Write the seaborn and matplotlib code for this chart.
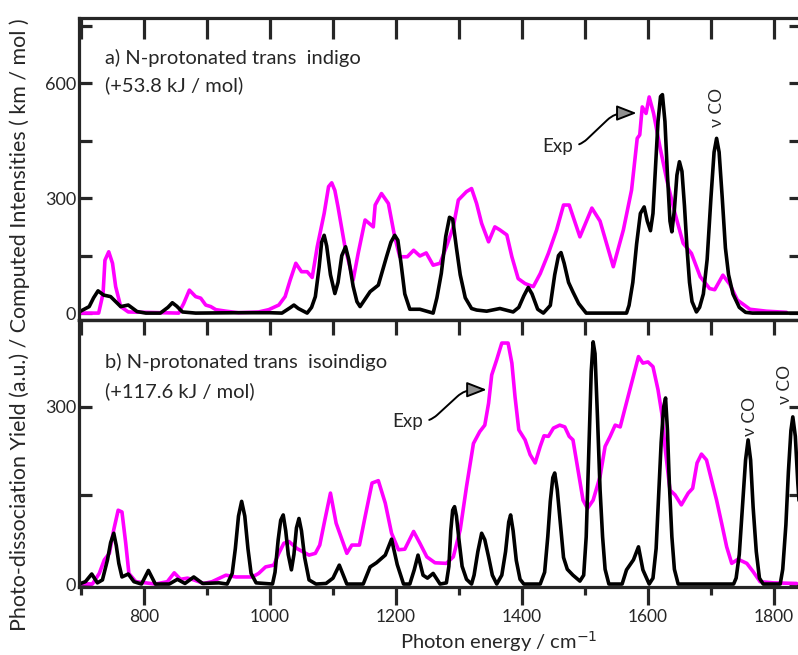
import numpy as np
import pandas as pd
import matplotlib
matplotlib.use("Agg")
import matplotlib.pyplot as plt
import seaborn as sns
from matplotlib.ticker import MultipleLocator

# panel a) N-protonated trans indigo
a_calc_x = [697, 713, 720, 727, 736, 747, 763, 775, 789, 803, 826, 838, 845, 852, 861, 882, 950, 1000,
            1019, 1032, 1038, 1045, 1059, 1066, 1072, 1078, 1082, 1086, 1090, 1096, 1103, 1108, 1114, 1120,
            1125, 1132, 1138, 1143, 1159, 1172, 1185, 1192, 1198, 1203, 1208, 1214, 1222, 1238, 1259, 1265,
            1272, 1279, 1285, 1290, 1296, 1302, 1310, 1320, 1328, 1344, 1365, 1386, 1395, 1403, 1410, 1416,
            1425, 1434, 1445, 1452, 1458, 1462, 1467, 1474, 1481, 1490, 1502, 1566, 1570, 1576, 1582, 1588,
            1594, 1599, 1604, 1608, 1612, 1616, 1620, 1623, 1627, 1631, 1635, 1638, 1642, 1646, 1650, 1654,
            1658, 1662, 1666, 1670, 1677, 1682, 1688, 1694, 1700, 1705, 1709, 1713, 1718, 1723, 1728, 1735,
            1745, 1755, 1766, 1843]
a_calc_y = [3, 17, 40, 58, 47, 43, 17, 21, 4, 0, 0, 15, 27, 18, 3, 0, 1, 1,
            0, 14, 21, 12, 0, 15, 43, 120, 185, 203, 175, 100, 51, 80, 150, 173,
            140, 70, 30, 17, 56, 73, 147, 185, 203, 190, 130, 50, 10, 10, 0, 40,
            104, 200, 250, 245, 170, 100, 40, 12, 8, 5, 12, 3, 15, 45, 67, 50,
            10, 0, 20, 100, 150, 158, 130, 80, 55, 25, 0, 0, 20, 80, 180, 260,
            277, 240, 215, 260, 380, 500, 565, 570, 500, 360, 240, 212, 270, 360, 395, 370,
            280, 170, 80, 30, 3, 15, 50, 140, 300, 420, 456, 420, 300, 170, 100, 50,
            15, 2, 0, 0]

a_exp_x = [697, 728, 735, 738, 744, 750, 755, 763, 775, 855, 863, 872, 882, 890, 898, 906, 914, 930, 950,
           982, 998, 1014, 1024, 1032, 1041, 1050, 1059, 1067, 1075, 1086, 1093, 1098, 1103, 1108, 1119,
           1132, 1140, 1151, 1164, 1167, 1177, 1188, 1198, 1206, 1218, 1228, 1238, 1248, 1259, 1270, 1280,
           1291, 1299, 1312, 1320, 1328, 1336, 1347, 1357, 1365, 1376, 1384, 1394, 1405, 1418, 1429, 1442,
           1455, 1466, 1475, 1492, 1511, 1524, 1545, 1561, 1574, 1583, 1587, 1591, 1597, 1602, 1609, 1619,
           1630, 1643, 1656, 1669, 1683, 1698, 1706, 1719, 1730, 1742, 1762, 1788, 1820]
a_exp_y = [0, 0, 51, 138, 160, 130, 69, 17, 3, 0, 25, 60, 43, 39, 21, 17, 9, 5, 1,
           3, 9, 21, 43, 86, 130, 108, 108, 93, 173, 260, 330, 340, 320, 277, 173,
           86, 156, 243, 225, 282, 312, 286, 199, 147, 147, 164, 149, 157, 125, 130, 173,
           225, 295, 317, 325, 286, 234, 186, 225, 217, 204, 147, 90, 77, 69, 103, 156,
           217, 282, 282, 199, 274, 240, 121, 217, 321, 456, 465, 538, 521, 564, 521, 434,
           347, 260, 182, 156, 95, 64, 61, 99, 75, 34, 10, 5, 2]

# panel b) N-protonated trans isoindigo
b_calc_x = [697, 707, 717, 726, 734, 742, 747, 752, 756, 760, 765, 775, 784, 796, 807, 818, 840, 853, 865,
            879, 893, 919, 932, 940, 945, 950, 955, 960, 965, 970, 978, 1004, 1008, 1013, 1017, 1021, 1025,
            1029, 1034, 1038, 1042, 1046, 1050, 1055, 1062, 1073, 1089, 1100, 1110, 1122, 1148, 1159, 1169,
            1183, 1193, 1202, 1212, 1222, 1229, 1235, 1243, 1250, 1259, 1270, 1280, 1284, 1287, 1290, 1293,
            1296, 1300, 1305, 1312, 1320, 1324, 1330, 1336, 1341, 1347, 1353, 1360, 1368, 1374, 1379, 1382,
            1386, 1391, 1397, 1403, 1429, 1436, 1441, 1445, 1449, 1452, 1456, 1460, 1466, 1472, 1481, 1492,
            1498, 1502, 1506, 1510, 1513, 1516, 1520, 1524, 1528, 1532, 1538, 1559, 1566, 1577, 1585, 1592,
            1602, 1608, 1613, 1617, 1621, 1625, 1628, 1631, 1634, 1638, 1642, 1648, 1736, 1740, 1745, 1750,
            1755, 1759, 1763, 1767, 1772, 1777, 1783, 1810, 1814, 1819, 1823, 1827, 1830, 1834, 1838, 1843]
b_calc_y = [0, 4, 17, 2, 7, 41, 70, 86, 65, 35, 12, 17, 4, 0, 23, 0, 0, 8, 1,
            12, 1, 2, 0, 18, 60, 115, 140, 115, 60, 18, 2, 0, 20, 75, 108, 117, 90,
            50, 24, 50, 95, 111, 90, 45, 7, 0, 1, 10, 32, 0, 0, 29, 36,
            49, 76, 33, 0, 0, 24, 49, 15, 10, 18, 0, 2, 30, 90, 125, 131,
            115, 75, 30, 8, 0, 15, 55, 86, 75, 46, 15, 0, 15, 55, 105, 117,
            90, 40, 8, 0, 0, 20, 80, 140, 180, 188, 160, 114, 45, 25, 15, 5,
            15, 80, 220, 360, 410, 390, 280, 160, 80, 25, 0, 0, 24, 41, 63, 24,
            0, 10, 60, 150, 240, 300, 315, 260, 170, 80, 25, 0, 0, 10, 50, 130,
            210, 244, 210, 130, 55, 10, 0, 0, 25, 100, 190, 260, 283, 250, 170, 92]

b_exp_x = [697, 718, 729, 737, 745, 752, 759, 765, 771, 776, 787, 818, 837, 848, 858, 869, 879, 895, 908,
           922, 930, 946, 972, 982, 993, 1006, 1014, 1022, 1030, 1043, 1062, 1072, 1079, 1087, 1096, 1105,
           1122, 1130, 1142, 1151, 1162, 1172, 1183, 1193, 1204, 1214, 1228, 1238, 1249, 1262, 1280, 1291,
           1302, 1312, 1323, 1333, 1341, 1347, 1352, 1360, 1368, 1378, 1384, 1389, 1395, 1405, 1413, 1421,
           1429, 1435, 1442, 1450, 1460, 1468, 1475, 1481, 1489, 1497, 1504, 1513, 1524, 1532, 1540, 1548,
           1556, 1563, 1574, 1585, 1592, 1600, 1608, 1616, 1622, 1627, 1635, 1643, 1653, 1664, 1671, 1678,
           1685, 1693, 1701, 1709, 1717, 1725, 1733, 1743, 1757, 1767, 1778, 1799, 1836]
b_exp_y = [1, 0, 18, 41, 52, 92, 125, 122, 69, 18, 4, 0, 4, 19, 8, 10, 7, 1, 4,
           11, 15, 12, 12, 18, 29, 32, 52, 69, 72, 60, 49, 52, 66, 108, 154, 103,
           52, 66, 66, 114, 171, 175, 137, 86, 58, 59, 89, 69, 46, 36, 35, 46,
           92, 165, 238, 258, 269, 306, 354, 380, 408, 408, 374, 317, 261, 244, 219, 205,
           233, 251, 250, 264, 269, 266, 250, 244, 193, 142, 128, 142, 182, 233, 250, 269,
           266, 295, 340, 385, 374, 376, 368, 329, 289, 233, 159, 151, 134, 154, 162, 205,
           220, 210, 176, 142, 103, 63, 35, 42, 35, 21, 4, 2, 1]

MAGENTA = "#ff00ff"
LW = 2.6
FONT = ["Lato", "DejaVu Sans"]

sns.set_style("ticks")
plt.rcParams["font.family"] = FONT
plt.rcParams["axes.linewidth"] = 2.3
plt.rcParams["lines.solid_joinstyle"] = "round"

fig = plt.figure(figsize=(7.98, 6.55), dpi=100)
W, H = 798, 655
ax1 = fig.add_axes([79 / W, 1 - 320 / H, (801 - 79) / W, (320 - 18) / H])
ax2 = fig.add_axes([79 / W, 1 - 587 / H, (801 - 79) / W, (587 - 320) / H])

for ax, ex, ey, cx, cy in [(ax1, a_exp_x, a_exp_y, a_calc_x, a_calc_y),
                           (ax2, b_exp_x, b_exp_y, b_calc_x, b_calc_y)]:
    sns.lineplot(x=ex, y=ey, ax=ax, color=MAGENTA, lw=LW, estimator=None, sort=False)
    sns.lineplot(x=cx, y=cy, ax=ax, color="black", lw=LW, estimator=None, sort=False)
    ax.set_xlim(696.8, 1843)
    ax.set_xlabel("")
    ax.set_ylabel("")
    for s in ax.spines.values():
        s.set_visible(True)
        s.set_linewidth(2.3)
    ax.yaxis.set_major_locator(MultipleLocator(300))
    ax.yaxis.set_minor_locator(MultipleLocator(150))
    ax.tick_params(axis="y", which="both", direction="in", left=True, right=True,
                   length=9, width=2.3, labelsize=13, pad=2)
    ax.xaxis.set_major_locator(MultipleLocator(200))
    ax.xaxis.set_minor_locator(MultipleLocator(100))

ax1.set_ylim(-18, 770)
ax1.tick_params(axis="x", which="both", direction="in", top=True, bottom=False,
                labelbottom=False, length=15, width=2.3)

ax2.set_ylim(-5, 447)
ax2.tick_params(axis="x", which="major", direction="out", top=False, bottom=True,
                length=13, width=2.3, labelsize=12.5, pad=3)
ax2.tick_params(axis="x", which="minor", direction="out", top=False, bottom=True,
                length=6, width=2.3)
sec = ax2.secondary_xaxis("top")
sec.xaxis.set_major_locator(MultipleLocator(100))
sec.tick_params(axis="x", direction="in", length=11, width=2.3, labeltop=False)
sec.spines["top"].set_linewidth(2.3)

# panel titles
TX = (105 - 79) / (801 - 79)
ax1.text(TX, 1 - (58 - 18) / 302, "a) N-protonated trans  indigo", transform=ax1.transAxes,
         fontsize=14.5, va="center", ha="left")
ax1.text(TX, 1 - (85 - 18) / 302, "(+53.8 kJ / mol)", transform=ax1.transAxes,
         fontsize=14.5, va="center", ha="left")
ax2.text(TX, 1 - (362 - 320) / 267, "b) N-protonated trans  isoindigo", transform=ax2.transAxes,
         fontsize=14.5, va="center", ha="left")
ax2.text(TX, 1 - (391 - 320) / 267, "(+117.6 kJ / mol)", transform=ax2.transAxes,
         fontsize=14.5, va="center", ha="left")

arrow = dict(arrowstyle="-|>,head_length=0.9,head_width=0.35", fc="#909090", ec="black", lw=1.4,
             connectionstyle="arc,angleA=0,armA=22,angleB=180,armB=22,rad=10", shrinkA=2, shrinkB=0)
ax1.annotate("Exp", xy=(1582, 522), xytext=(1457, 436), fontsize=13.5, ha="center", va="center",
             arrowprops=arrow)
ax2.annotate("Exp", xy=(1344, 329), xytext=(1219, 275), fontsize=13.5, ha="center", va="center",
             arrowprops=arrow)

ax1.text(1709, 485, "ν CO", rotation=90, ha="center", va="bottom", fontsize=12.5)
ax2.text(1762, 250, "ν CO", rotation=90, ha="center", va="bottom", fontsize=12.5)
ax2.text(1817, 305, "ν CO", rotation=90, ha="center", va="bottom", fontsize=12.5)

fig.text(20 / W, 1 - 325 / H, "Photo-dissociation Yield (a.u.) / Computed Intensities ( km / mol )",
         rotation=90, ha="center", va="center", fontsize=15.4)
fig.text(499 / W, 1 - 642 / H, "Photon energy / cm$^{-1}$", ha="center", va="center", fontsize=14.5)

fig.savefig("out.png", dpi=100)
